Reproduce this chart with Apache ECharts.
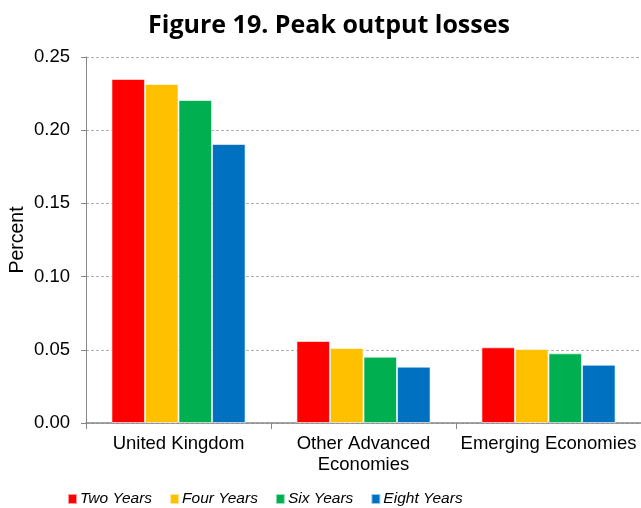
<!DOCTYPE html>
<html><head><meta charset="utf-8">
<script src="https://cdn.jsdelivr.net/npm/echarts@6/dist/echarts.min.js"></script>
<style>html,body{margin:0;padding:0;background:#fff}#c{width:641px;height:508px}</style>
</head><body><div id="c"></div>
<script>
const categories = ['United Kingdom', 'Other Advanced\nEconomies', 'Emerging Economies'];
const seriesNames = ['Two Years', 'Four Years', 'Six Years', 'Eight Years'];
const twoYears = [0.235, 0.056, 0.0517];
const fourYears = [0.2316, 0.0512, 0.0505];
const sixYears = [0.2206, 0.0453, 0.0476];
const eightYears = [0.1906, 0.0385, 0.0398];
const colors = ['#FF0000', '#FFC000', '#00B050', '#0070C0'];
const allData = [twoYears, fourYears, sixYears, eightYears];

const chart = echarts.init(document.getElementById('c'), null, {renderer: 'canvas'});
chart.setOption({
  animation: false,
  title: {
    text: 'Figure 19. Peak output losses',
    left: 324, top: 8, textAlign: 'center',
    textStyle: {fontFamily: 'Open Sans', fontWeight: 'bold', fontSize: 25, color: '#000'}
  },
  legend: {
    top: 486, left: 62,
    itemWidth: 9, itemHeight: 10, itemGap: 17,
    icon: 'rect',
    textStyle: {fontFamily: 'Liberation Sans', fontStyle: 'italic', fontSize: 15.5, color: '#000', padding: [0,0,0,-2]},
    data: seriesNames
  },
  grid: {left: 86, right: 0, top: 57, bottom: 85, containLabel: false, outerBoundsMode: 'none'},
  xAxis: {
    type: 'category', data: categories,
    axisLine: {lineStyle: {color: '#868686', width: 1.5}},
    axisTick: {show: true, length: 6, lineStyle: {color: '#868686'}},
    axisLabel: {interval: 0, fontFamily: 'Liberation Sans', fontSize: 18.5, color: '#000', margin: 10, lineHeight: 21}
  },
  yAxis: {
    type: 'value', min: 0, max: 0.25, interval: 0.05,
    name: 'Percent', nameLocation: 'middle', nameGap: 58, nameMoveOverlap: false,
    nameTextStyle: {fontFamily: 'Liberation Sans', fontSize: 19.5, color: '#000'},
    axisLine: {show: true, lineStyle: {color: '#868686'}},
    axisTick: {show: true, length: 5, lineStyle: {color: '#868686'}},
    axisLabel: {fontFamily: 'Liberation Sans', fontSize: 18.5, color: '#000', margin: 16,
      formatter: v => v.toFixed(2)},
    splitLine: {lineStyle: {color: '#b0b0b0', type: [3, 2], width: 1}}
  },
  series: seriesNames.map((n, i) => ({
    name: n, type: 'bar', data: allData[i],
    barGap: '0%', barCategoryGap: '27.5%',
    itemStyle: {color: colors[i], borderColor: 'rgba(255,255,255,0.6)', borderWidth: 1}
  }))
});
</script></body></html>
